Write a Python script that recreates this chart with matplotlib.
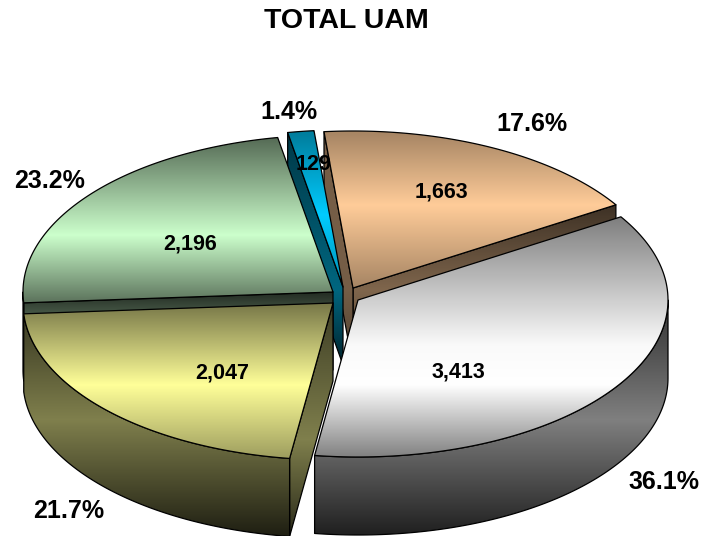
import numpy as np
import matplotlib
matplotlib.use("Agg")
import matplotlib.pyplot as plt
from matplotlib.patches import Polygon
from matplotlib.colors import to_rgb

# --- data (clockwise from the first slice) ---
names = ["gray", "yellow", "green", "blue", "orange"]
values = [3413, 2047, 2196, 129, 1663]
title = "TOTAL UAM"

# --- layout and style ---
colors = ["#FFFFFF", "#FFFF99", "#CCFFCC", "#00CCFF", "#FFCC99"]
centers = [(358, 300), (333, 303), (333, 292), (343, 287), (353, 288)]
START = 58.0
RX, RY, DEPTH = 310.0, 157.0, 78.0
top_stops = [
    [(218, .50), (345, .98), (385, 1.0), (458, .50)],
    [(303, .46), (385, 1.0), (458, .62)],
    [(138, .42), (235, 1.0), (300, .47)],
    [(134, .62), (215, 1.0), (290, .70)],
    [(134, .66), (205, 1.0), (290, .64)],
]
wall_stops = [(300, .22), (345, .30), (420, .50), (536, .12)]
value_pos = [(458, 372), (222, 373), (190, 244), (314, 164), (441, 192)]
pct_pos = [(664, 482), (69, 511), (50, 181), (289, 112), (532, 124)]

plt.rcParams["font.family"] = ["Liberation Sans", "DejaVu Sans"]
fig = plt.figure(figsize=(7.04, 5.36), dpi=100)
ax = fig.add_axes([0, 0, 1, 1])
ax.set_xlim(0, 704)
ax.set_ylim(536, 0)
ax.axis("off")

rows = np.arange(0, 537)


def point(c, deg):
    t = np.radians(deg)
    return c[0] + RX * np.sin(t), c[1] - RY * np.cos(t)


def arc(c, a, b, n=120):
    t = np.radians(np.linspace(a, b, n))
    return np.column_stack([c[0] + RX * np.sin(t), c[1] - RY * np.cos(t)])


def fill(xy, color, stops, z, lw=0.9):
    xy = np.asarray(xy)
    ys, fs = zip(*stops)
    f = np.interp(rows, ys, fs)
    img = (np.array(to_rgb(color))[None, None, :] * f[:, None, None])
    im = ax.imshow(img, extent=(0, 704, 536, 0), aspect="auto", zorder=z,
                   interpolation="bilinear")
    poly = Polygon(xy, closed=True, transform=ax.transData)
    im.set_clip_path(poly)
    ax.add_patch(Polygon(xy, closed=True, fill=False, edgecolor="black",
                         linewidth=lw, zorder=z + 0.01, joinstyle="round"))


share = np.array(values) / sum(values)
spans = share * 360
starts = START + np.concatenate([[0], np.cumsum(spans)[:-1]])
ends = starts + spans
d = np.array([0, DEPTH])

draw_order = [4, 3, 2, 1, 0]
z = 1
for i in draw_order:
    c, col = np.array(centers[i], float), colors[i]
    a, b = starts[i], ends[i]
    A, B = np.array(point(c, a)), np.array(point(c, b))

    if names[i] == "blue":
        fill([A, c, c + d, A + d], col, [(134, .28), (290, .50), (362, .18)], z)
    elif names[i] == "orange":
        fill([B, c, c + d, B + d], col, [(205, .24), (290, .50), (370, .3)], z)
        fill([A, c, c + d, A + d], col, [(134, .46), (290, .46), (370, .3)], z + 0.1)
    elif names[i] == "green":
        fill([A, c, c + d, A + d], col, [(292, .17), (318, .38), (382, .3)], z)
    elif names[i] == "yellow":
        fill([c, A, A + d, c + d], col, [(303, .24), (440, .50), (536, .16)], z)
    # outer wall: the part of the rim that faces the viewer
    lo, hi = max(a, 90), min(b, 270)
    if lo < hi:
        rim = arc(c, lo, hi)
        fill(np.vstack([rim, rim[::-1] + d]), col, wall_stops, z + 0.2)
    # top surface
    fill(np.vstack([[c], arc(c, a, b)]), col, top_stops[i], z + 0.4)
    z += 1

ax.text(346, 21, title, ha="center", va="center", fontsize=20.5,
        fontweight="bold", zorder=20)
for v, s, vp, pp in zip(values, share, value_pos, pct_pos):
    ax.text(*vp, f"{v:,}", ha="center", va="center", fontsize=15.5,
            fontweight="bold", zorder=20)
    ax.text(*pp, f"{s * 100:.1f}%", ha="center", va="center", fontsize=18,
            fontweight="bold", zorder=20)

ax.set_xlim(0, 704)
ax.set_ylim(536, 0)
fig.savefig("out.png", dpi=100)
